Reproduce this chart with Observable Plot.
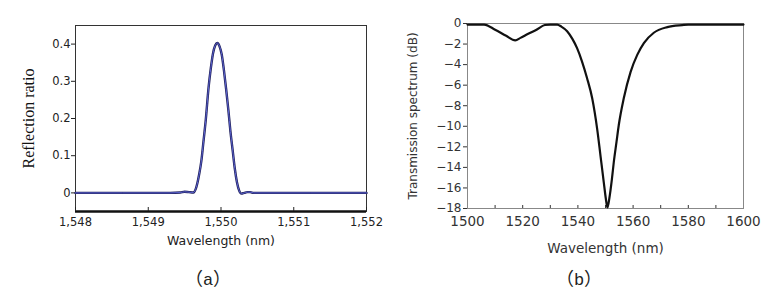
<!DOCTYPE html>
<html>
<head>
<meta charset="utf-8">
<script src="https://cdn.jsdelivr.net/npm/d3@7"></script>
<script src="https://cdn.jsdelivr.net/npm/@observablehq/plot@0.6"></script>
<style>
  html, body { margin: 0; padding: 0; background: #fff; }
  #wrap { position: relative; width: 763px; height: 290px; overflow: hidden; }
  #chartA { position: absolute; left: 0; top: 0; }
  #chartB { position: absolute; left: 380px; top: 0; }
  .cap { position: absolute; top: 264px; font-family: "Noto Sans CJK SC", serif; font-size: 18px; color: #222; transform: translateX(-50%); white-space: nowrap; }
  .cap span { font-family: "Liberation Mono", monospace; font-size: 17px; }
</style>
</head>
<body>
<div id="wrap">
  <div id="chartA"></div>
  <div id="chartB"></div>
  <div class="cap" style="left:208px">（<span>a</span>）</div>
  <div class="cap" style="left:579px">（<span>b</span>）</div>
</div>
<script>
// ---- Panel (a): reflection spectrum ----
const wavelengthA = [1548, 1549.3, 1549.44, 1549.5, 1549.56, 1549.62, 1549.66, 1549.70, 1549.73, 1549.76, 1549.79, 1549.83, 1549.86, 1549.89, 1549.92, 1549.95, 1549.98, 1550.01, 1550.04, 1550.07, 1550.10, 1550.13, 1550.16, 1550.19, 1550.22, 1550.25, 1550.28, 1550.32, 1550.36, 1550.40, 1550.45, 1552];
const reflectionA = [0, 0, 0.001, 0.003, 0.002, 0.001, 0.015, 0.05, 0.086, 0.14, 0.195, 0.285, 0.335, 0.375, 0.396, 0.403, 0.394, 0.372, 0.33, 0.28, 0.225, 0.165, 0.115, 0.065, 0.028, 0.006, -0.002, 0, 0.002, 0.002, 0, 0];
const xTicksA = [1548, 1549, 1550, 1551, 1552];
const yTicksA = [0, 0.1, 0.2, 0.3, 0.4];
const yDomainA = [-0.05, 0.45];
const yLabelA = "Reflection ratio";
const xLabelA = "Wavelength (nm)";

// ---- Panel (b): transmission spectrum ----
const wavelengthB = [1500, 1506, 1510, 1514, 1517.3, 1519.2, 1522, 1525, 1528, 1530, 1532.5, 1534, 1536.1, 1538, 1539.7, 1541.5, 1543.3, 1545.2, 1547, 1548.2, 1549.4, 1550.1, 1550.7, 1551.4, 1552.3, 1553, 1554, 1554.8, 1556.6, 1559.1, 1561.5, 1563.9, 1567.5, 1572.4, 1577.8, 1580, 1600];
const transmissionB = [-0.1, -0.1, -0.6, -1.2, -1.65, -1.4, -1.0, -0.6, -0.15, -0.1, -0.1, -0.3, -0.75, -1.5, -2.4, -3.7, -5.3, -7.3, -10.3, -12.9, -15.5, -17.0, -17.9, -17.0, -15.2, -13.5, -11.5, -9.9, -7.3, -4.7, -3.05, -1.9, -0.9, -0.35, -0.15, -0.1, -0.1];
const xTicksB = [1500, 1520, 1540, 1560, 1580, 1600];
const xMinorB = [1510, 1520, 1530, 1540, 1550, 1560, 1570, 1580, 1590];
const yTicksB = [0, -2, -4, -6, -8, -10, -12, -14, -16, -18];
const yLabelB = "Transmission spectrum (dB)";
const xLabelB = "Wavelength (nm)";

const dataA = wavelengthA.map((w, i) => ({w, r: reflectionA[i]}));
const dataB = wavelengthB.map((w, i) => ({w, t: transmissionB[i]}));

const chartA = Plot.plot({
  width: 392, height: 250,
  marginLeft: 75, marginRight: 26, marginTop: 25, marginBottom: 39,
  style: {fontFamily: "DejaVu Sans", fontSize: "11px", color: "#222", background: "transparent"},
  x: {domain: [1548, 1552]},
  y: {domain: yDomainA},
  marks: [
    Plot.frame({stroke: "#333", strokeWidth: 1}),
    Plot.ruleY([yDomainA[0]], {stroke: "#111", strokeWidth: 2.5}),
    Plot.axisY({ticks: yTicksA, tickSize: 4, tickPadding: 1, fontSize: 11.5, tickFormat: d => String(d), label: null}),
    Plot.axisX({ticks: xTicksA, tickSize: -4, text: null, label: null}),
    Plot.axisX({ticks: xTicksA, tickSize: 0, tickPadding: 6, fontSize: 11.5, tickFormat: ",", label: null}),
    Plot.text([yLabelA], {frameAnchor: "left", textAnchor: "middle", rotate: -90, dx: -47, fontFamily: "Liberation Serif", fontSize: 16, fill: "#111"}),
    Plot.text([xLabelA], {frameAnchor: "bottom", dy: 33, fontSize: 12.5, fill: "#222"}),
    Plot.line(dataA, {x: "w", y: "r", stroke: "#20205a", strokeWidth: 2.4, curve: "monotone-x"}),
    Plot.line(dataA, {x: "w", y: "r", stroke: "#5a62d0", strokeWidth: 1, curve: "monotone-x"})
  ]
});
document.getElementById("chartA").append(chartA);

const chartB = Plot.plot({
  width: 383, height: 262,
  marginLeft: 87, marginRight: 20, marginTop: 23, marginBottom: 54,
  style: {fontFamily: "DejaVu Sans", fontSize: "12px", color: "#333", background: "transparent"},
  x: {domain: [1500, 1600]},
  y: {domain: [-18, 0]},
  marks: [
    Plot.frame({stroke: "#888", strokeWidth: 1}),
    Plot.axisY({ticks: yTicksB, tickSize: 4, tickPadding: 2, fontSize: 12, label: null}),
    Plot.axisX({ticks: xMinorB, tickSize: -3, stroke: "#333", text: null, label: null}),
    Plot.axisX({ticks: xTicksB, tickSize: 0, tickPadding: 8, fontSize: 13.5, tickFormat: "d", label: null}),
    Plot.text([yLabelB], {frameAnchor: "left", textAnchor: "middle", rotate: -90, dx: -54, fontSize: 12, fill: "#333"}),
    Plot.text([xLabelB], {frameAnchor: "bottom", dy: 44, fontSize: 13.5, fill: "#333"}),
    Plot.line(dataB, {x: "w", y: "t", stroke: "#111", strokeWidth: 2.2, curve: "monotone-x"})
  ]
});
document.getElementById("chartB").append(chartB);
</script>
</body>
</html>
